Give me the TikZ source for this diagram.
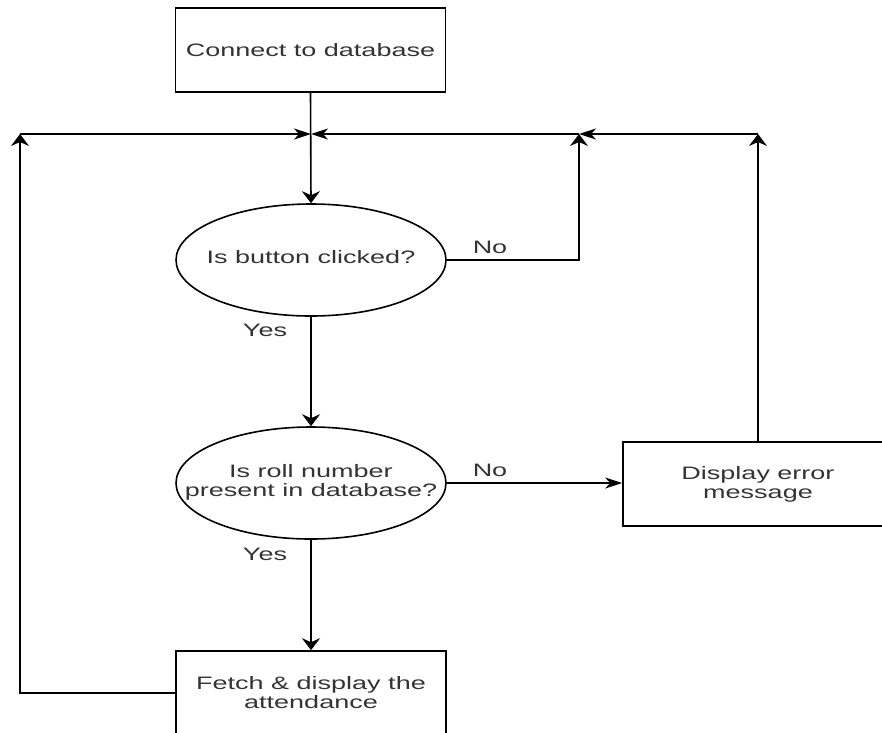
\documentclass[tikz,border=0pt]{standalone}
\usepackage{fontspec}
\setmainfont{Liberation Sans}[FakeStretch=1.5]
\usetikzlibrary{shapes.geometric,arrows.meta}
\definecolor{txt}{gray}{0.2}
\newcommand{\zw}[1]{\makebox[0pt][c]{\begin{tabular}{@{}c@{}}#1\end{tabular}}}
\tikzset{
  box/.style={draw, line width=1.6pt, rectangle, minimum width=270pt, minimum height=84pt, inner sep=0pt, align=center, text=txt, font=\fontsize{18}{19}\selectfont},
  decision/.style={draw, line width=1.6pt, ellipse, minimum width=270pt, minimum height=112pt, inner sep=0pt, text=txt, font=\fontsize{18}{19}\selectfont},
  lbl/.style={text=txt, font=\fontsize{18}{19}\selectfont, inner sep=0pt},
  arrV/.style={line width=1.6pt, -{Stealth[length=12pt, width=18pt, inset=4pt]}},
  arrH/.style={line width=1.6pt, -{Stealth[length=17pt, width=11pt, inset=5pt]}},
}
\begin{document}
\begin{tikzpicture}[x=1pt, y=-1pt]
\useasboundingbox (0,0) rectangle (882,732);
\clip (0,0) rectangle (882,732);
\node[box] (connect) at (310.5,50) {Connect to database};
\node[decision] (q1) at (311,260) {\zw{Is button clicked?}};
\node[decision] (q2) at (311,483) {\zw{Is roll number\\present in database?}};
\node[box] (err) at (758,484) {Display error\\message};
\node[box] (fetch) at (311,693) {Fetch \& display the\\attendance};
\coordinate (j0) at (311,134);
\coordinate (jL) at (20,134);
\coordinate (jR1) at (579,134);
\coordinate (jR2) at (758,134);
\node[lbl] (no1) at (490,247) {No};
\node[lbl] (yes1) at (265,330) {Yes};
\node[lbl] (no2) at (490,470) {No};
\node[lbl] (yes2) at (265,554) {Yes};
\draw[arrV] (connect.south) -- (q1.north);
\draw[arrV] (q1.south) -- (q2.north);
\draw[arrV] (q2.south) -- (fetch.north);
\draw[arrH] (q2.east) -- (q2.east -| err.west);
\draw[arrV] (q1.east) -| (jR1);
\draw[arrH] (jR1) -- (j0);
\draw[arrV] (err.north) -- (jR2);
\draw[arrH] (jR2) -- (jR1);
\draw[arrV] (fetch.west) -| (jL);
\draw[arrH] (jL) -- (j0);
\end{tikzpicture}
\end{document}
